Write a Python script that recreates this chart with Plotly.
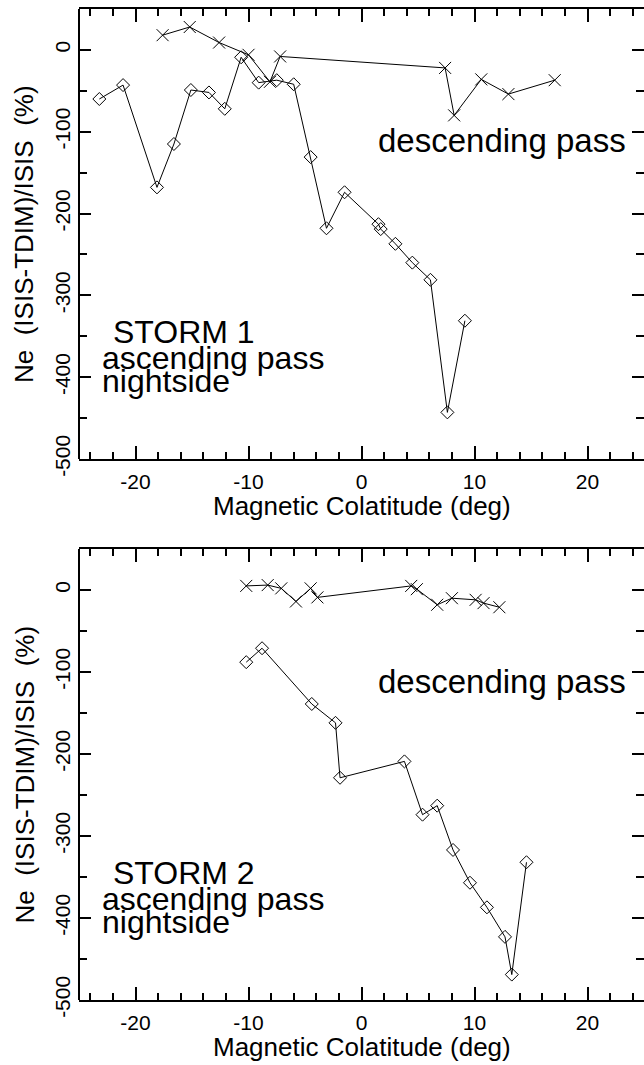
import plotly.graph_objects as go

# ---------------- data ----------------
x_tick_vals = [-20, -10, 0, 10, 20]
x_tick_text = ["-20", "-10", "0", "10", "20"]
y_tick_vals = [0, -100, -200, -300, -400, -500]
y_tick_text = ["0", "-100", "-200", "-300", "-400", "-500"]

storm1_desc_x = [-17.6, -15.2, -12.6, -10.0, -8.1, -7.2, 7.4, 8.2, 10.6, 13.0, 17.1]
storm1_desc_y = [18, 28, 9, -6, -39, -8, -22, -80, -36, -54, -37]
storm1_asc_x = [-23.2, -21.1, -18.1, -16.6, -15.1, -13.5, -12.1, -10.65, -9.1, -7.5, -6.0,
                -4.5, -3.1, -1.5, 1.5, 1.7, 3.0, 4.5, 6.1, 7.6, 9.15]
storm1_asc_y = [-60, -43, -168, -115, -49, -52, -72, -9, -40, -37, -42,
                -131, -218, -174, -213, -219, -237, -260, -281, -443, -331]

storm2_desc_x = [-10.2, -8.3, -7.1, -5.8, -4.5, -3.9, 4.4, 4.9, 6.7, 8.0, 10.1, 10.8, 12.2]
storm2_desc_y = [5, 6, 2, -14, 2, -9, 5, 1, -18, -10, -12, -16, -21]
storm2_asc_x = [-10.2, -8.8, -4.4, -2.3, -1.9, 3.8, 5.4, 6.7, 8.1, 9.6, 11.1, 12.7, 13.3, 14.6]
storm2_asc_y = [-88, -71, -139, -162, -229, -209, -274, -263, -317, -357, -387, -423, -469, -332]

storm_labels = ["STORM 1", "STORM 2"]
x_title = "Magnetic Colatitude (deg)"
y_title = "Ne  (ISIS-TDIM)/ISIS  (%)"

FONT = "Liberation Sans, Arial, Helvetica, sans-serif"

fig = go.Figure()

def add_panel(xa, ya, dx, dy, ax, ay):
    fig.add_trace(go.Scatter(x=dx, y=dy, xaxis=xa, yaxis=ya, mode="lines+markers",
                             line=dict(color="black", width=1),
                             marker=dict(symbol="x-thin-open", size=12, color="black",
                                         line=dict(color="black", width=1)),
                             showlegend=False))
    fig.add_trace(go.Scatter(x=ax, y=ay, xaxis=xa, yaxis=ya, mode="lines+markers",
                             line=dict(color="black", width=1),
                             marker=dict(symbol="diamond-open", size=10, color="black",
                                         line=dict(color="black", width=1)),
                             showlegend=False))

add_panel("x", "y", storm1_desc_x, storm1_desc_y, storm1_asc_x, storm1_asc_y)
add_panel("x2", "y2", storm2_desc_x, storm2_desc_y, storm2_asc_x, storm2_asc_y)

W, H = 644, 1065
ml, mr, mt, mb = 79, 0, 9, 65
ph = H - mt - mb
top_dom = [1 - (459 - mt) / ph, 1.0]
bot_dom = [0.0, 1 - (549 - mt) / ph]

xaxis_common = dict(range=[-25, 25], tickvals=x_tick_vals, ticktext=x_tick_text,
                    ticks="inside", ticklen=13,
                    tickwidth=2, tickcolor="black", showline=True, linecolor="black",
                    linewidth=2, mirror="ticks", showgrid=False, zeroline=False,
                    ticklabelstandoff=3,
                    minor=dict(dtick=2, tick0=0, ticks="inside", ticklen=7, tickwidth=1.5,
                               tickcolor="black", showgrid=False),
                    tickfont=dict(family=FONT, size=21, color="black"))
yaxis_common = dict(range=[-500, 50], tickvals=y_tick_vals, ticktext=y_tick_text,
                    ticks="inside", ticklen=12,
                    tickwidth=2, tickcolor="black", showline=False,
                    mirror="ticks", showgrid=False, zeroline=False,
                    tickangle=-90, ticklabelstandoff=4,
                    minor=dict(dtick=50, tick0=0, ticks="inside", ticklen=8, tickwidth=1.5,
                               tickcolor="black", showgrid=False),
                    tickfont=dict(family=FONT, size=21, color="black"))

fig.update_layout(
    width=W, height=H,
    margin=dict(l=ml, r=mr, t=mt, b=mb),
    paper_bgcolor="white", plot_bgcolor="white",
    xaxis=dict(domain=[0, 1], anchor="y", **xaxis_common),
    yaxis=dict(domain=top_dom, anchor="x", **yaxis_common),
    xaxis2=dict(domain=[0, 1], anchor="y2", **xaxis_common),
    yaxis2=dict(domain=bot_dom, anchor="x2", **yaxis_common),
    font=dict(family=FONT, color="black"),
)

# left frame lines (the right frame edge falls just outside the picture)
shapes = []
for xa, ya in [("x", "y"), ("x2", "y2")]:
    shapes.append(dict(type="line", xref=xa + " domain", yref=ya + " domain",
                       x0=0, x1=0, y0=0, y1=1, line=dict(color="black", width=2)))
fig.update_layout(shapes=shapes)

ann = []
for i, (xa, ya) in enumerate([("x", "y"), ("x2", "y2")]):
    ann.append(dict(text="descending pass", x=1.24, y=-111, xref=xa, yref=ya,
                    xanchor="left", yanchor="middle", showarrow=False,
                    font=dict(family=FONT, size=33, color="black")))
    ann.append(dict(text=storm_labels[i], x=-22.2, y=-345, xref=xa, yref=ya,
                    xanchor="left", yanchor="middle", showarrow=False,
                    font=dict(family=FONT, size=32, color="black")))
    ann.append(dict(text="ascending pass", x=-23.1, y=-377, xref=xa, yref=ya,
                    xanchor="left", yanchor="middle", showarrow=False,
                    font=dict(family=FONT, size=32, color="black")))
    ann.append(dict(text="nightside", x=-23.1, y=-405, xref=xa, yref=ya,
                    xanchor="left", yanchor="middle", showarrow=False,
                    font=dict(family=FONT, size=32, color="black")))
    ann.append(dict(text=x_title, x=0.5, y=-47 / 450, xref=xa + " domain", yref=ya + " domain",
                    xanchor="center", yanchor="middle", showarrow=False,
                    font=dict(family=FONT, size=26, color="black")))
    ann.append(dict(text=y_title, x=(24 - ml) / (W - ml - mr), y=0.5, xref=xa + " domain",
                    yref=ya + " domain", xanchor="center", yanchor="middle", textangle=-90,
                    showarrow=False, font=dict(family=FONT, size=26, color="black")))

fig.update_layout(annotations=ann)

fig.write_html("out.html")
